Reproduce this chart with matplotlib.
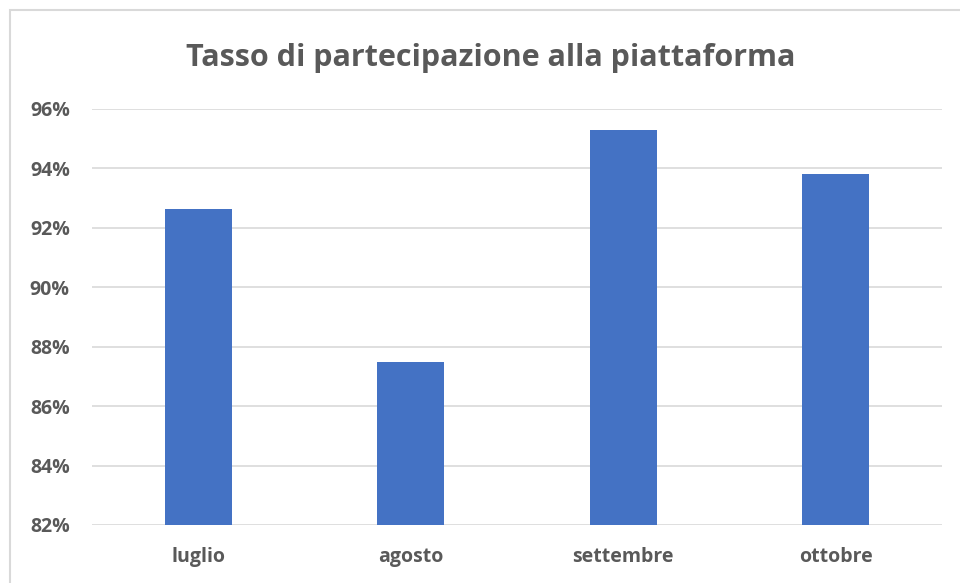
import matplotlib.pyplot as plt
from matplotlib.patches import Rectangle
from matplotlib.ticker import FuncFormatter

mesi = ["luglio", "agosto", "settembre", "ottobre"]
tasso = [92.65, 87.5, 95.3, 93.8]
y_ticks = [82, 84, 86, 88, 90, 92, 94, 96]

grigio = "#595959"
plt.rcParams['font.family'] = ['Open Sans', 'DejaVu Sans']

fig = plt.figure(figsize=(9.6, 5.83), dpi=100)
# axes area in pixels: x 92..942, y 109..525 (from top)
W, H = 960, 583
ax = fig.add_axes([92 / W, 1 - 525 / H, (942 - 92) / W, (525 - 109) / H])

x = range(len(mesi))
ax.bar(x, tasso, width=0.315, color="#4472C4", zorder=3)

ax.set_ylim(82, 96)
ax.set_xlim(-0.5, len(mesi) - 0.5)
ax.set_yticks(y_ticks)
ax.yaxis.set_major_formatter(FuncFormatter(lambda v, p: "%d%%" % v))
ax.set_xticks(list(x))
ax.set_xticklabels(mesi)

ax.grid(axis="y", color="#D9D9D9", linewidth=1.2, zorder=0)
for s in ax.spines.values():
    s.set_visible(False)
ax.tick_params(length=0, labelsize=14, labelcolor=grigio)
ax.tick_params(axis="y", pad=16)
ax.tick_params(axis="x", pad=16)
for lab in ax.get_xticklabels() + ax.get_yticklabels():
    lab.set_fontweight("bold")

fig.text(491 / W, 1 - 66 / H, "Tasso di partecipazione alla piattaforma",
         ha="center", va="baseline", fontsize=22, fontweight="bold", color=grigio)

# chart border (cut off at right and bottom in the original)
fig.patches.append(Rectangle((10 / W, -0.05), 1.0, 1 - 10 / H + 0.05,
                             transform=fig.transFigure, fill=False,
                             edgecolor="#D9D9D9", linewidth=1.5))

fig.savefig("out.png", dpi=100)
